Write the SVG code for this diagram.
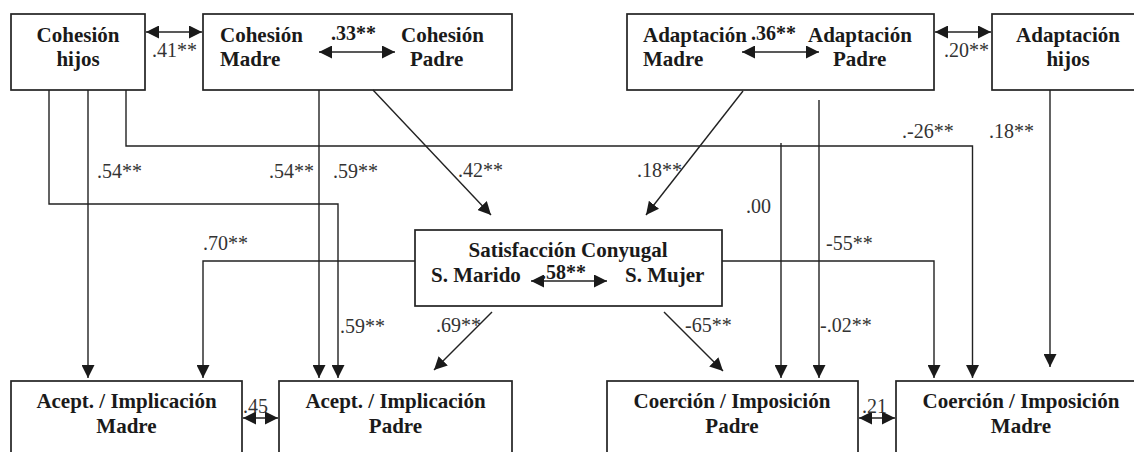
<svg xmlns="http://www.w3.org/2000/svg" width="1134" height="452" viewBox="0 0 1134 452">
<style>
.box{fill:#fff;stroke:#222;stroke-width:1.7}
.t{font-family:"Liberation Serif","Times New Roman",serif;font-weight:bold;font-size:21px;fill:#1a1a1a}
.c{text-anchor:middle}
.lb{font-family:"Liberation Serif","Times New Roman",serif;font-size:20px;fill:#333}
.lbb{font-family:"Liberation Serif","Times New Roman",serif;font-size:20px;font-weight:bold;fill:#1a1a1a}
.ln{fill:none;stroke:#222;stroke-width:1.4}
.a{marker-end:url(#ah)}
.d{marker-start:url(#ah);marker-end:url(#ah)}
</style>
<defs>
<marker id="ah" markerUnits="userSpaceOnUse" markerWidth="14" markerHeight="13" refX="13" refY="6.5" orient="auto-start-reverse">
<path d="M0,0 L13,6.5 L0,13 z" fill="#1a1a1a"/>
</marker>
</defs>
<rect width="1134" height="452" fill="#fff"/>

<g id="n-cohesion-hijos">
<rect class="box" x="11" y="14" width="134" height="76"/>
<text class="t c" x="78" y="42">Cohesión</text>
<text class="t c" x="78" y="66">hijos</text>
</g>
<g id="n-cohesion-padres">
<rect class="box" x="203" y="14" width="309" height="76"/>
<text class="t" x="220" y="42">Cohesión</text>
<text class="t" x="220" y="66">Madre</text>
<text class="lbb" x="331" y="40">.33**</text>
<text class="t" x="401" y="42">Cohesión</text>
<text class="t" x="410" y="66">Padre</text>
</g>
<g id="n-adaptacion-padres">
<rect class="box" x="627" y="14" width="307" height="76"/>
<text class="t" x="643" y="42">Adaptación</text>
<text class="t" x="643" y="66">Madre</text>
<text class="lbb" x="751" y="40">.36**</text>
<text class="t" x="808" y="42">Adaptación</text>
<text class="t" x="833" y="66">Padre</text>
</g>
<g id="n-adaptacion-hijos">
<rect class="box" x="992" y="14" width="152" height="76"/>
<text class="t c" x="1068" y="42">Adaptación</text>
<text class="t c" x="1068" y="66">hijos</text>
</g>
<g id="n-satisfaccion">
<rect class="box" x="415" y="230" width="307" height="76"/>
<text class="t c" x="568" y="257">Satisfacción Conyugal</text>
<text class="t" x="431" y="282">S. Marido</text>
<text class="lbb" x="541" y="279">.58**</text>
<text class="t" x="625" y="282">S. Mujer</text>
</g>
<g id="n-acept-madre">
<rect class="box" x="11" y="381" width="231" height="90"/>
<text class="t c" x="126.5" y="408">Acept. / Implicación</text>
<text class="t c" x="126.5" y="433">Madre</text>
</g>
<g id="n-acept-padre">
<rect class="box" x="279" y="381" width="233" height="90"/>
<text class="t c" x="395.5" y="408">Acept. / Implicación</text>
<text class="t c" x="395.5" y="433">Padre</text>
</g>
<g id="n-coercion-padre">
<rect class="box" x="607" y="381" width="251" height="90"/>
<text class="t c" x="732" y="408">Coerción / Imposición</text>
<text class="t c" x="732" y="433">Padre</text>
</g>
<g id="n-coercion-madre">
<rect class="box" x="896" y="381" width="250" height="90"/>
<text class="t c" x="1021" y="408">Coerción / Imposición</text>
<text class="t c" x="1021" y="433">Madre</text>
</g>

<g id="connectors">
<path class="ln a" d="M49,90 V204 H338 V378"/>
<path class="ln a" d="M88,90 V378"/>
<path class="ln a" d="M126,90 V146 H972.5 V378"/>
<path class="ln a" d="M319,90 V378"/>
<path class="ln a" d="M373,90 L491,215"/>
<path class="ln a" d="M743,91 L646,215"/>
<path class="ln a" d="M819,100 V378"/>
<path class="ln a" d="M781,143 V378"/>
<path class="ln a" d="M1050,90 V367"/>
<path class="ln a" d="M415,261 H203 V378"/>
<path class="ln a" d="M722,261 H934 V378"/>
<path class="ln a" d="M492,312 L434,370"/>
<path class="ln a" d="M664,312 L723,371"/>
<path class="ln d" d="M146,32 H202"/>
<path class="ln d" d="M935,32 H991"/>
<path class="ln d" d="M319,52 H395"/>
<path class="ln d" d="M742,52 H819"/>
<path class="ln d" d="M531,281 H607"/>
<path class="ln d" d="M243,418 H278"/>
<path class="ln d" d="M859,418 H895"/>
</g>

<g id="labels">
<text class="lb" x="152" y="57">.41**</text>
<text class="lb" x="944" y="57">.20**</text>
<text class="lb" x="97" y="178">.54**</text>
<text class="lb" x="269" y="178">.54**</text>
<text class="lb" x="333" y="178">.59**</text>
<text class="lb" x="458" y="177">.42**</text>
<text class="lb" x="637" y="177">.18**</text>
<text class="lb" x="902" y="138">.-26**</text>
<text class="lb" x="989" y="138">.18**</text>
<text class="lb" x="746" y="213">.00</text>
<text class="lb" x="203" y="250">.70**</text>
<text class="lb" x="826" y="250">-55**</text>
<text class="lb" x="340" y="333">.59**</text>
<text class="lb" x="436" y="332">.69**</text>
<text class="lb" x="685" y="332">-65**</text>
<text class="lb" x="820" y="332">-.02**</text>
<text class="lb" x="243" y="413">.45</text>
<text class="lb" x="862" y="413">.21</text>
</g>
</svg>
